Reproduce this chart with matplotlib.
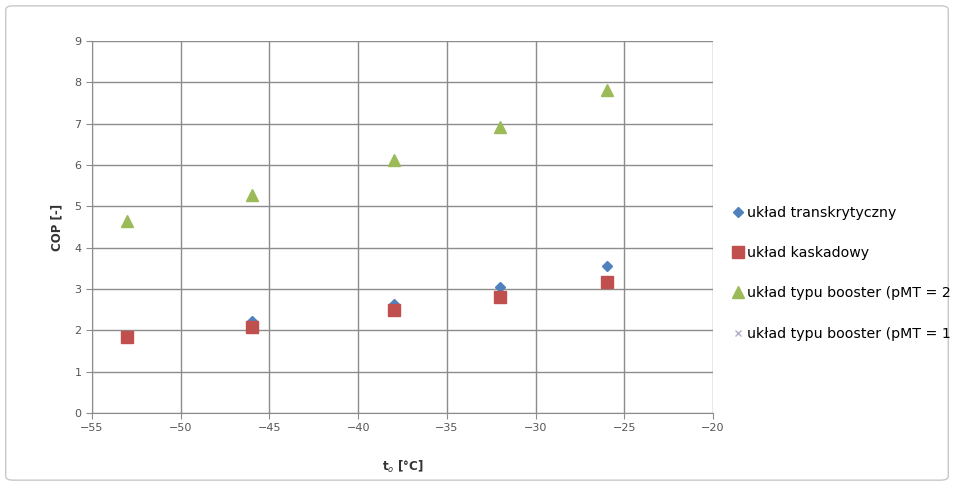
import matplotlib
matplotlib.use("Agg")
import matplotlib.pyplot as plt
from matplotlib.patches import FancyBboxPatch

# temperatures (x) and COP values
t_o = [-53, -46, -38, -32, -26]
cop_trans = [None, 2.22, 2.64, 3.05, 3.56]
cop_kask = [1.84, 2.08, 2.49, 2.81, 3.17]
cop_boost2 = [4.65, 5.28, 6.13, 6.92, 7.82]
cop_boost1 = []

labels = ["układ transkrytyczny", "układ kaskadowy",
          "układ typu booster (pMT = 2", "układ typu booster (pMT = 1"]

fig = plt.figure(figsize=(9.54, 4.86), dpi=100)
fig.patches.append(FancyBboxPatch((0.006, 0.012), 0.988, 0.976,
                                  boxstyle="round,pad=0,rounding_size=0.008",
                                  transform=fig.transFigure, fill=False,
                                  edgecolor="#c8c8c8", linewidth=1.0))

ax = fig.add_axes([0.0964, 0.1502, 0.651, 0.7654])

xs_t = [x for x, y in zip(t_o, cop_trans) if y is not None]
ys_t = [y for y in cop_trans if y is not None]
ax.plot(xs_t, ys_t, linestyle="none", marker="D", markersize=5,
        color="#4f81bd", label=labels[0], zorder=3)
ax.plot(t_o, cop_kask, linestyle="none", marker="s", markersize=9,
        color="#c0504d", label=labels[1], zorder=4)
ax.plot(t_o, cop_boost2, linestyle="none", marker="^", markersize=8,
        color="#9bbb59", label=labels[2], zorder=3)
ax.plot(cop_boost1, cop_boost1, linestyle="none", marker="x", markersize=5,
        color="#b0b0c8", label=labels[3], zorder=3)

ax.set_xlim(-55, -20)
ax.set_ylim(0, 9)
ax.set_xticks(range(-55, -19, 5))
ax.set_yticks(range(0, 10))
ax.grid(True, color="#8c8c8c", linewidth=1.0)
ax.set_axisbelow(True)
for s in ["top", "right"]:
    ax.spines[s].set_visible(False)
for s in ["left", "bottom"]:
    ax.spines[s].set_color("#8c8c8c")
ax.tick_params(axis="both", labelsize=8, colors="#555555", length=4,
               color="#8c8c8c")
ax.set_ylabel("COP [-]", fontsize=8.5, fontweight="bold", color="#333333",
              labelpad=8)
ax.set_xlabel("t$_o$ [°C]", fontsize=8.5, fontweight="bold", color="#333333",
              labelpad=18)

fig.legend(loc="upper left", bbox_to_anchor=(0.763, 0.588), frameon=False,
           fontsize=10.2, labelspacing=1.85, handlelength=0.6,
           handletextpad=0.35, borderaxespad=0)

plt.savefig("out.png", dpi=100)
